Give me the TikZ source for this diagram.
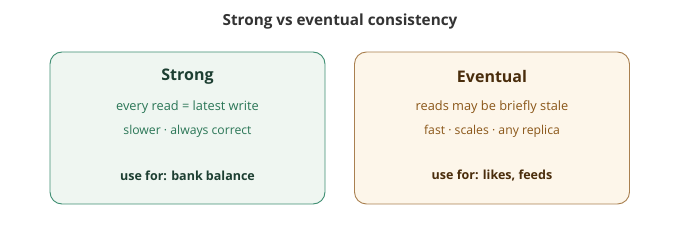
\documentclass[tikz,border=0pt]{standalone}
\usepackage{fontspec}
\setmainfont{Open Sans}
\usepackage{tikz}
\usetikzlibrary{positioning}

\definecolor{grnline}{HTML}{3E8E72}
\definecolor{grnfill}{HTML}{EFF6F1}
\definecolor{grndark}{HTML}{1D3F32}
\definecolor{grntext}{HTML}{2A7656}
\definecolor{brnline}{HTML}{A98050}
\definecolor{brnfill}{HTML}{FDF6EA}
\definecolor{brndark}{HTML}{4A2D0C}
\definecolor{brntext}{HTML}{8A5618}

\begin{document}
\begin{tikzpicture}[
    x=1pt, y=-1pt,
    panel/.style={
      draw, line width=0.9pt, rounded corners=12pt,
      minimum width=275pt, minimum height=152pt, inner sep=0pt
    },
    head/.style={font=\fontsize{16}{18}\selectfont\bfseries, inner sep=0pt},
    note/.style={font=\fontsize{12.8}{14}\selectfont, inner sep=0pt},
    subnote/.style={font=\fontsize{12.2}{14}\selectfont, inner sep=0pt},
    usefor/.style={font=\fontsize{12.5}{14}\selectfont\bfseries, inner sep=0pt},
  ]
    \useasboundingbox (0,0) rectangle (680,232);
    \node[font=\fontsize{15.3}{17}\selectfont\bfseries, text=black!80] (title) at (340,22) {Strong vs eventual consistency};

    % strong side
    \node[panel, draw=grnline, fill=grnfill] (strong) at (187.5,128) {};
    \node[head, text=grndark] (shead) at (187.5,77) {Strong};
    \node[note, text=grntext] (s1) at (187.5,107) {every read = latest write};
    \node[subnote, text=grntext] (s2) at (187.5,131) {slower · always correct};
    \node[usefor, text=grndark] (suse) at (187.5,176) {use for: bank balance};

    % eventual side
    \node[panel, draw=brnline, fill=brnfill] (eventual) at (492,128) {};
    \node[head, text=brndark] (ehead) at (492,77) {Eventual};
    \node[note, text=brntext] (e1) at (492,107) {reads may be briefly stale};
    \node[subnote, text=brntext] (e2) at (492,131) {fast · scales · any replica};
    \node[usefor, text=brndark] (euse) at (492,176) {use for: likes, feeds};
  \end{tikzpicture}
\end{document}
